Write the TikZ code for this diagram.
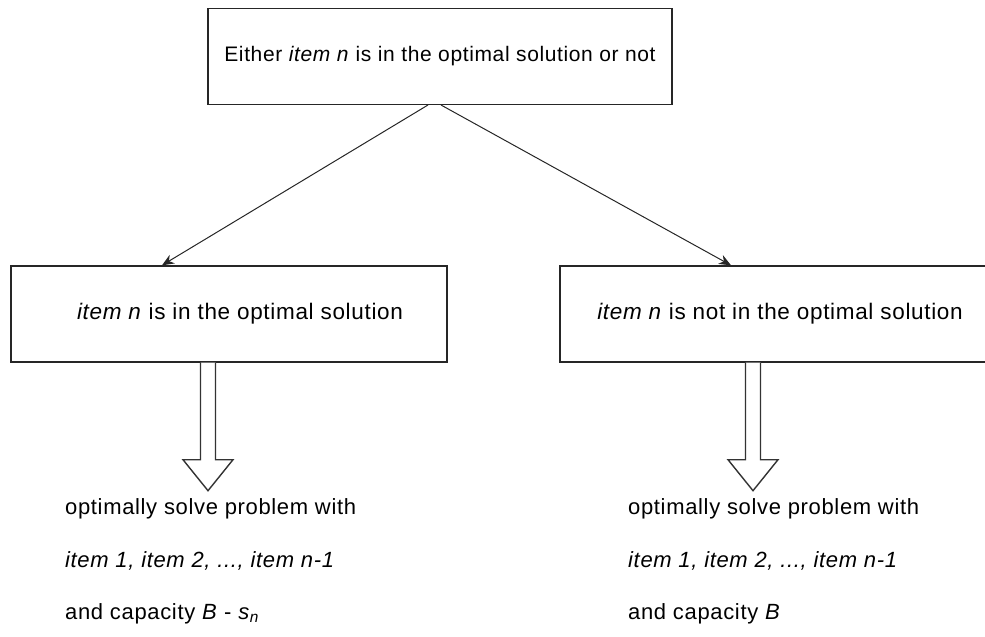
\documentclass[tikz,border=0pt]{standalone}
\usepackage{fontspec}
\setmainfont[LetterSpace=3]{Liberation Sans}
\usetikzlibrary{arrows.meta,positioning}

\begin{document}
\begin{tikzpicture}[x=1pt, y=-1pt,
  box/.style={draw=black!85, line width=1.4pt, minimum height=96, inner sep=0pt,
              font=\fontsize{22.5}{26}\selectfont},
  line/.style={draw=black!85, line width=1pt, -{Stealth[length=12pt,width=10pt]}},
  bigarrow/.style={draw=black!80, line width=1.4pt, fill=white},
  caption/.style={anchor=west, inner sep=0pt, font=\fontsize{22}{26}\selectfont}]
  \useasboundingbox (0,0) rectangle (985,637);

  % boxes
  \node[box, minimum width=464, font=\fontsize{21}{25}\selectfont] (choice) at (440,56.5)
    {Either \textit{item n} is in the optimal solution or not};
  \node[box, minimum width=436] (inopt) at (229,314)
    {\hspace*{22pt}\textit{item n} is in the optimal solution};
  \node[box, minimum width=426] (notopt) at (773,314)
    {\hspace*{14pt}\textit{item n} is not in the optimal solution};

  % thin arrows
  \coordinate (outl) at (428,105);
  \coordinate (outr) at (441,105);
  \path
  (outl) edge[line] ([xshift=-67]inopt.north)
  (outr) edge[line] ([xshift=-42]notopt.north)
  ;

  % block arrows
  \foreach \src/\dx in {inopt/-21, notopt/-20}{
    \draw[bigarrow] ([xshift=\dx-7.5]\src.south) -- ++(0,97) -- ++(-17.5,0)
      -- ++(25,31) -- ++(25,-31) -- ++(-17.5,0) -- ([xshift=\dx+7.5]\src.south);
  }

  % results
  \node[caption] (solvel) at (65,509) {optimally solve problem with};
  \node[caption] (iteml) at (65,561) {\textit{item 1, item 2, ..., item n-1}};
  \node[caption] (capl) at (65,614)
    {and capacity \textit{B} - \textit{s}\textsubscript{\textit{n}}};
  \node[caption] (solver) at (628,509) {optimally solve problem with};
  \node[caption] (itemr) at (628,561) {\textit{item 1, item 2, ..., item n-1}};
  \node[caption] (capr) at (628,614) {and capacity \textit{B}};
\end{tikzpicture}
\end{document}
